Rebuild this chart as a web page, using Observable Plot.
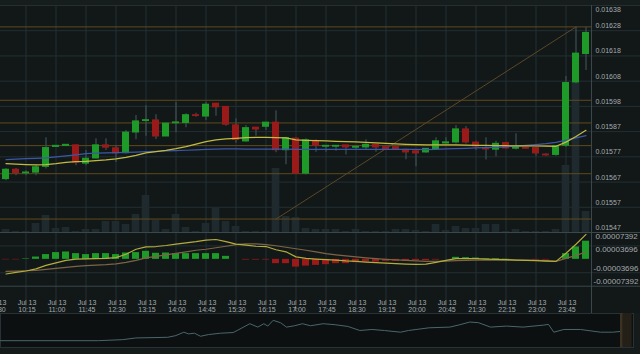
<!DOCTYPE html>
<html><head><meta charset="utf-8">
<script src="https://cdn.jsdelivr.net/npm/d3@7"></script>
<script src="https://cdn.jsdelivr.net/npm/@observablehq/plot@0.6"></script>
<style>
html,body{margin:0;padding:0;background:#121718;}
#chart{position:relative;width:640px;height:354px;overflow:hidden;background:#121718;}
#top{position:absolute;left:0;top:0;width:640px;height:5px;background:#171c1d;}
#bottom{position:absolute;left:0;top:313px;width:640px;height:41px;background:#151a1b;}
</style></head>
<body><div id="chart"><div id="top"></div><div id="bottom"></div></div>
<script>
// ---------- data ----------
const times = ["09:45","10:00","10:15","10:30","10:45","11:00","11:15","11:30","11:45","12:00","12:15","12:30","12:45","13:00","13:15","13:30","13:45","14:00","14:15","14:30","14:45","15:00","15:15","15:30","15:45","16:00","16:15","16:30","16:45","17:00","17:15","17:30","17:45","18:00","18:15","18:30","18:45","19:00","19:15","19:30","19:45","20:00","20:15","20:30","20:45","21:00","21:15","21:30","21:45","22:00","22:15","22:30","22:45","23:00","23:15","23:30","23:45","00:00","00:15"];
const tickTimes = ["10:15","11:00","11:45","12:30","13:15","14:00","14:45","15:30","16:15","17:00","17:45","18:30","19:15","20:00","20:45","21:30","22:15","23:00","23:45"];
const tickDay = "Jul 13";
const open = [0.015685,0.015721,0.015708,0.015711,0.015734,0.015814,0.015818,0.015819,0.015747,0.015768,
0.015819,0.015807,0.015789,0.015872,0.015918,0.015919,0.015856,0.015909,0.015910,0.015940,
0.015936,0.015986,0.015973,0.015899,0.015836,0.015890,0.015895,0.015910,0.015801,0.015846,
0.015707,0.015835,0.015815,0.015815,0.015819,0.015811,0.015812,0.015821,0.015812,0.015812,
0.015801,0.015795,0.015792,0.015805,0.015828,0.015832,0.015883,0.015830,0.015808,0.015803,
0.015828,0.015807,0.015809,0.015808,0.015782,0.015782,0.015819,0.016073,0.016187];
const close = [0.015721,0.015709,0.015710,0.015731,0.015808,0.015817,0.015821,0.015751,0.015765,0.015819,
0.015811,0.015788,0.015870,0.015915,0.015920,0.015856,0.015906,0.015911,0.015940,0.015938,
0.015982,0.015973,0.015903,0.015842,0.015888,0.015884,0.015910,0.015801,0.015848,0.015707,
0.015839,0.015819,0.015817,0.015817,0.015812,0.015813,0.015821,0.015812,0.015805,0.015803,
0.015792,0.015788,0.015805,0.015835,0.015831,0.015883,0.015832,0.015816,0.015804,0.015825,
0.015808,0.015809,0.015807,0.015788,0.015780,0.015815,0.016069,0.016187,0.016270];
const high = [0.015727,0.015727,0.015718,0.015741,0.015850,0.015819,0.015823,0.015821,0.015799,0.015846,
0.015846,0.015819,0.015879,0.015939,0.015979,0.015942,0.015908,0.015993,0.015946,0.015948,
0.015993,0.015987,0.015975,0.015926,0.015899,0.015891,0.015910,0.015959,0.015852,0.015850,
0.015846,0.015842,0.015819,0.015819,0.015819,0.015815,0.015842,0.015821,0.015812,0.015812,
0.015805,0.015799,0.015807,0.015850,0.015850,0.015899,0.015895,0.015836,0.015850,0.015836,
0.015832,0.015866,0.015812,0.015812,0.015786,0.015819,0.016096,0.016294,0.016294];
const low = [0.015678,0.015698,0.015698,0.015698,0.015725,0.015813,0.015817,0.015738,0.015738,0.015765,
0.015799,0.015751,0.015785,0.015842,0.015856,0.015843,0.015855,0.015870,0.015890,0.015932,
0.015919,0.015936,0.015896,0.015828,0.015832,0.015856,0.015879,0.015790,0.015742,0.015705,
0.015701,0.015792,0.015792,0.015796,0.015781,0.015801,0.015801,0.015792,0.015799,0.015801,
0.015762,0.015734,0.015788,0.015799,0.015825,0.015825,0.015825,0.015799,0.015761,0.015774,
0.015805,0.015801,0.015805,0.015776,0.015776,0.015776,0.015811,0.016067,0.016120];
const volume = [3,1,1,9,17,4,5,1,3,3, 11,11,8,18,37,12,3,18,5,1, 9,24,11,6,1,1,1,64,16,15,
4,3,3,3,1,3,1,1,1,3, 3,2,1,8,2,6,4,4,8,8, 1,3,1,1,1,3,67,150,21];
const maFast = [0.0157462,0.0157442,0.0157422,0.0157410,0.0157422,0.0157462,0.0157515,0.0157543,0.0157555,0.0157583,
0.0157611,0.0157651,0.0157716,0.0157796,0.0157892,0.0157945,0.0157997,0.0158065,0.0158146,0.0158246,
0.0158347,0.0158415,0.0158455,0.0158480,0.0158508,0.0158520,0.0158520,0.0158508,0.0158496,0.0158415,
0.0158399,0.0158387,0.0158375,0.0158359,0.0158347,0.0158335,0.0158315,0.0158295,0.0158274,0.0158254,
0.0158238,0.0158226,0.0158214,0.0158214,0.0158214,0.0158214,0.0158206,0.0158198,0.0158194,0.0158186,
0.0158182,0.0158178,0.0158174,0.0158170,0.0158166,0.0158158,0.0158327,0.0158548,0.0158801];
const maSlow = [0.0157623,0.0157643,0.0157663,0.0157675,0.0157691,0.0157732,0.0157776,0.0157816,0.0157864,0.0157884,
0.0157896,0.0157905,0.0157913,0.0157925,0.0157941,0.0157957,0.0157973,0.0157985,0.0158001,0.0158017,
0.0158033,0.0158049,0.0158053,0.0158053,0.0158049,0.0158045,0.0158045,0.0158045,0.0158045,0.0158037,
0.0158037,0.0158037,0.0158037,0.0158037,0.0158037,0.0158037,0.0158037,0.0158037,0.0158037,0.0158037,
0.0158037,0.0158037,0.0158025,0.0158037,0.0158053,0.0158065,0.0158077,0.0158094,0.0158106,0.0158118,
0.0158138,0.0158166,0.0158194,0.0158226,0.0158266,0.0158319,0.0158407,0.0158496,0.0158588];
const macd = [-40.3e-6,-36.1e-6,-32.0e-6,-26.4e-6,-16.7e-6,-9.7e-6,-2.8e-6,0.8e-6,1.4e-6,1.9e-6,
2.8e-6,4.7e-6,13.9e-6,27.8e-6,34.2e-6,35.3e-6,38.1e-6,41.7e-6,45.3e-6,48.6e-6,
52.8e-6,54.7e-6,48.6e-6,41.7e-6,38.9e-6,36.1e-6,35.3e-6,26.4e-6,20.8e-6,6.9e-6,
2.8e-6,0.8e-6,-0.8e-6,-1.9e-6,-4.2e-6,-5.6e-6,-7.5e-6,-9.2e-6,-10.6e-6,-11.9e-6,
-13.1e-6,-13.9e-6,-13.1e-6,-8.3e-6,-2.8e-6,1.9e-6,1.9e-6,1.9e-6,0.8e-6,0,
-0.8e-6,-1.9e-6,-2.8e-6,-3.6e-6,-4.7e-6,-5.6e-6,16.7e-6,41.7e-6,68.6e-6];
const signal = [-33.3e-6,-32.5e-6,-31.4e-6,-30.6e-6,-27.8e-6,-25.0e-6,-22.2e-6,-19.5e-6,-17.5e-6,-15.8e-6,
-14.7e-6,-12.5e-6,-8.3e-6,-2.8e-6,4.2e-6,8.3e-6,12.5e-6,16.7e-6,20.8e-6,25.0e-6,
27.8e-6,32.0e-6,36.1e-6,40.3e-6,42.5e-6,42.5e-6,40.3e-6,37.5e-6,33.3e-6,29.2e-6,
25.0e-6,20.8e-6,15.8e-6,12.5e-6,9.7e-6,6.9e-6,4.2e-6,1.9e-6,0,-1.4e-6,
-2.8e-6,-4.2e-6,-5.6e-6,-5.6e-6,-4.7e-6,-3.6e-6,-2.8e-6,-1.9e-6,-1.9e-6,-1.9e-6,
-1.9e-6,-1.9e-6,-1.9e-6,-2.8e-6,-3.6e-6,-5.6e-6,2.8e-6,11.1e-6,20.3e-6];
const hist = [-1.4e-6,-1.4e-6,1.4e-6,6.4e-6,13.1e-6,18.6e-6,20.3e-6,15.8e-6,13.1e-6,15.8e-6,
15.8e-6,13.1e-6,17.5e-6,18.6e-6,22.2e-6,16.7e-6,17.5e-6,15.8e-6,15.8e-6,15.8e-6,
15.8e-6,15.8e-6,8.3e-6,0,-1.9e-6,-1.9e-6,-1.9e-6,-11.9e-6,-11.9e-6,-21.4e-6,
-18.6e-6,-16.7e-6,-14.7e-6,-11.9e-6,-11.9e-6,-9.2e-6,-7.5e-6,-7.5e-6,-5.6e-6,-5.6e-6,
-5.6e-6,-3.6e-6,-3.6e-6,-1.9e-6,0,5.6e-6,4.7e-6,3.6e-6,1.9e-6,1.9e-6,
0.8e-6,0,0,-1.9e-6,-1.9e-6,0,15.8e-6,34.2e-6,50.0e-6];
const priceTicks = [0.015470,0.0155712,0.0156724,0.0157736,0.0158748,0.015976,0.0160772,0.0161784,0.0162796,0.0163808];
const macdTicks = [-0.00007392,-0.00003696,0.00003696,0.00007392];
const fibHigh = 0.016295, fibLow = 0.015524;
const fibRatios = [0, 0.382, 0.5, 0.618, 0.764, 1];
const fibStart = "16:30", fibEnd = "00:00";
const navT = [0,14.7,18.3,20.3,25.1,26.3,27.5,28.2,29.1,30.0,31.2,33.0,34.9,35.5,37.4,38.6,39.5,40.1,40.9,42.0,42.9,44.1,45.3,46.5,48.4,50.2,52.1,53.9,55.7,57.6,60.0,61.2,64.3,67.4,68.9,70.4,71.7,73.5,75.9,78.4,81.5,82.2,83.0,84.5,87.0,90.0,91.8,92.9];
const navV = [0.0129,0.0129,0.01305,0.0133,0.0134,0.01365,0.01415,0.0139,0.0140,0.01355,0.0138,0.0140,0.0141,0.0144,0.0154,0.0149,0.0154,0.01505,0.0159,0.01555,0.0149,0.0151,0.0154,0.0151,0.0154,0.01525,0.0150,0.0144,0.01455,0.0144,0.01415,0.0144,0.0148,0.0149,0.01525,0.01565,0.01555,0.0149,0.01505,0.0149,0.0152,0.0153,0.01415,0.01455,0.01455,0.01415,0.01415,0.01425];
const navDomain = [0, 94.95], navYDomain = [0.011895, 0.016905];
const navHandle = [{x1: 93.0, x2: 93.4, c: "#3b3222"}, {x1: 93.45, x2: 94.75, c: "#241f17"}];

// ---------- styling ----------
const MR = 50;
const FONT = '"Liberation Sans", Arial, sans-serif';
const GRID = "#233033", BORDER = "#3a484b", TXT = "#a4acae";
const GREEN = "#1d9a27", RED = "#9a1a1a", WICK = "#3c5155";
const xBand = {type: "band", domain: times, paddingInner: 0.3, paddingOuter: 0.15, align: 0.5, axis: null};
const st = (top) => ({position: "absolute", left: "0px", top: top + "px", background: "transparent", overflow: "visible", fontFamily: FONT, color: TXT});

const rows = times.map((t, i) => ({t, o: open[i], h: high[i], l: low[i], c: close[i], v: volume[i],
  f: maFast[i], s: maSlow[i], m: macd[i], g: signal[i], hs: hist[i]}));
const fibLevels = fibRatios.map(r => fibHigh - r * (fibHigh - fibLow));
const fibLine = [{t: fibStart, p: fibLow}, {t: fibEnd, p: fibHigh}];
const lastT = times[times.length - 1];
const priceY = {domain: [priceTicks[0], priceTicks[priceTicks.length - 1]], axis: null};
const chart = document.getElementById("chart");

// layer 1: price grid
chart.appendChild(Plot.plot({
  width: 640, height: 232, marginTop: 5, marginBottom: 0, marginLeft: 0, marginRight: MR,
  x: xBand, y: priceY, style: st(0),
  marks: [
    Plot.ruleY(priceTicks, {stroke: GRID, insetRight: -MR}),
    Plot.ruleX(tickTimes, {stroke: GRID}),
    Plot.ruleX([lastT], {dx: 5.5, stroke: BORDER})
  ]
}));

// layer 2: volume
chart.appendChild(Plot.plot({
  width: 640, height: 232, marginTop: 5, marginBottom: 0, marginLeft: 0, marginRight: MR,
  x: xBand, y: {domain: [0, 227], axis: null}, style: st(0),
  marks: [
    Plot.barY(rows, {x: "t", y: "v", fill: "#1e2a2e", insetLeft: -0.4, insetRight: -0.4})
  ]
}));

// layer 3: candles, MAs, fib
const pf = d3.format(".5f");
chart.appendChild(Plot.plot({
  width: 640, height: 232, marginTop: 5, marginBottom: 0, marginLeft: 0, marginRight: MR,
  x: xBand, y: priceY, style: st(0),
  marks: [
    Plot.ruleY(fibLevels, {stroke: "#5e4b1e", insetRight: -1.5}),
    Plot.line(fibLine, {x: "t", y: "p", stroke: "#5a4827", strokeWidth: 1}),
    Plot.ruleX(rows, {x: "t", y1: "l", y2: "h", stroke: WICK, strokeWidth: 1.2}),
    Plot.barY(rows, {x: "t", y1: "o", y2: "c", fill: d => d.c >= d.o ? GREEN : RED, insetTop: -0.7, insetBottom: -0.7}),
    Plot.lineY(rows, {x: "t", y: "s", stroke: "#3b58a6", strokeWidth: 1.2}),
    Plot.lineY(rows, {x: "t", y: "f", stroke: "#c2bb42", strokeWidth: 1.2}),
    Plot.axisY(priceTicks.slice(0, -1), {anchor: "right", tickSize: 0, tickPadding: 5, dy: -4.7, tickFormat: pf, fontSize: 7}),
    Plot.axisY(priceTicks.slice(-1), {anchor: "right", tickSize: 0, tickPadding: 5, dy: 4.2, tickFormat: pf, fontSize: 7})
  ]
}));

// layer 4: MACD panel + time axis
const mf = d => (d < 0 ? "-" : "") + Math.abs(d).toFixed(8);
chart.appendChild(Plot.plot({
  width: 640, height: 81, marginTop: 0, marginBottom: 27.3, marginLeft: 0, marginRight: MR,
  x: xBand, y: {domain: [macdTicks[0], macdTicks[macdTicks.length - 1]], axis: null}, style: st(232),
  marks: [
    Plot.ruleY(macdTicks.slice(1, -1), {stroke: GRID, insetRight: -MR}),
    Plot.ruleX(tickTimes, {stroke: GRID, insetBottom: -27.3}),
    Plot.ruleY([macdTicks[0], macdTicks[macdTicks.length - 1]], {stroke: BORDER, insetRight: -MR}),
    Plot.ruleX([lastT], {dx: 5.5, stroke: BORDER, insetBottom: -27.3}),
    Plot.barY(rows, {x: "t", y: "hs", fill: d => d.hs >= 0 ? GREEN : RED}),
    Plot.lineY(rows, {x: "t", y: "g", stroke: "#7d6446", strokeWidth: 1.2}),
    Plot.lineY(rows, {x: "t", y: "m", stroke: "#b3ad3c", strokeWidth: 1.2}),
    Plot.axisY(macdTicks.filter(d => d > 0), {anchor: "right", tickSize: 0, tickPadding: 5, dy: 4, tickFormat: mf, fontSize: 8}),
    Plot.axisY(macdTicks.filter(d => d < 0), {anchor: "right", tickSize: 0, tickPadding: 3, dy: -4.6, tickFormat: mf, fontSize: 8}),
    Plot.axisX(tickTimes, {anchor: "bottom", tickSize: 0, tickPadding: 13.5, dx: 1, fontSize: 7, lineHeight: 1,
      tickFormat: t => tickDay + "\n" + t}),
    Plot.text([{t: times[0], label: tickDay + "\n09:30"}], {x: "t", text: "label", frameAnchor: "bottom", dy: 13.5, dx: -9,
      lineAnchor: "top", fontSize: 7, lineHeight: 1, fill: "currentColor"})
  ]
}));

// layer 5: navigator
chart.appendChild(Plot.plot({
  width: 633, height: 34, marginTop: 0, marginBottom: 0, marginLeft: 0, marginRight: 0,
  x: {domain: navDomain, axis: null}, y: {domain: navYDomain, axis: null}, style: st(313),
  marks: [
    Plot.frame({fill: "#0c1011", stroke: "#283234"}),
    Plot.line(navT.map((t, i) => ({t, v: navV[i]})), {x: "t", y: "v", stroke: "#4a666b", strokeWidth: 1}),
    Plot.rect(navHandle, {x1: "x1", x2: "x2", fill: "c"})
  ]
}));
</script></body></html>
